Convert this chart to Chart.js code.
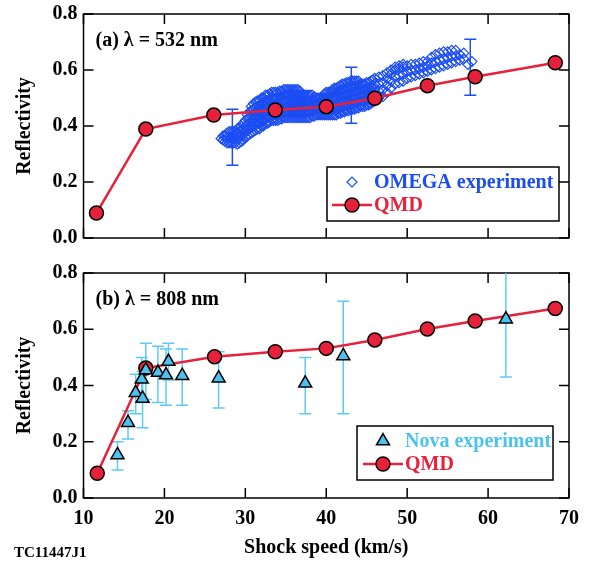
<!DOCTYPE html>
<html>
<head>
<meta charset="utf-8">
<script src="https://cdn.jsdelivr.net/npm/chart.js@4.4.1/dist/chart.umd.min.js"></script>
<style>
  body { margin: 0; background: #fff; }
  #wrap { position: relative; width: 589px; height: 567px; }
  .box { position: absolute; left: 0; width: 589px; }
</style>
</head>
<body>
<div id="wrap">
  <div class="box" style="top:0;height:250px"><canvas id="topChart"></canvas></div>
  <div class="box" style="top:250px;height:317px"><canvas id="bottomChart"></canvas></div>
</div>
<script>
const xTicks = [10, 20, 30, 40, 50, 60, 70];
const yTicks = [0.0, 0.2, 0.4, 0.6, 0.8];

// (a) 532 nm
const qmdSpeedA = [11.6, 17.7, 26.1, 33.7, 40.0, 46.0, 52.5, 58.4, 68.3];
const qmdReflA = [0.089, 0.389, 0.439, 0.457, 0.469, 0.499, 0.544, 0.576, 0.626];

// OMEGA streak data, one column of readings per speed
const omegaSpeed = [
  27.00, 27.25, 27.50, 27.75, 28.00, 28.25, 28.50, 28.75, 29.00, 29.25,
  29.50, 29.75, 30.00, 30.25, 30.50, 30.75, 31.00, 31.25, 31.50, 31.75,
  32.00, 32.25, 32.50, 32.75, 33.00, 33.25, 33.50, 33.75, 34.00, 34.25,
  34.50, 34.75, 35.00, 35.25, 35.50, 35.75, 36.00, 36.25, 36.50, 36.75,
  37.00, 37.25, 37.50, 37.75, 38.00, 38.25, 38.50, 38.75, 39.00, 39.25,
  39.50, 39.75, 40.00, 40.25, 40.50, 40.75, 41.00, 41.25, 41.50, 41.75,
  42.00, 42.25, 42.50, 42.75, 43.00, 43.25, 43.50, 43.75, 44.00, 44.25,
  44.50, 44.75, 45.00, 45.25, 45.50, 45.75, 46.00,
  46.5, 47.0, 47.5, 48.0, 48.5, 49.0, 49.5, 50.0, 50.5, 51.0,
  51.5, 52.0, 52.5, 53.0, 53.5, 54.0, 54.5, 55.0, 55.5, 56.0,
  56.5, 57.0, 57.5, 58.0
];
const omegaRefl = [
  [0.355], [0.35, 0.365], [0.345, 0.365], [0.34, 0.36, 0.375], [0.34, 0.36, 0.38],
  [0.34, 0.36, 0.38], [0.34, 0.36, 0.38], [0.34, 0.36, 0.38], [0.335, 0.355, 0.375, 0.39],
  [0.34, 0.36, 0.38, 0.395],
  [0.345, 0.365, 0.385, 0.40], [0.35, 0.37, 0.39, 0.41], [0.36, 0.38, 0.40, 0.42],
  [0.365, 0.385, 0.405, 0.425, 0.44], [0.37, 0.39, 0.41, 0.43, 0.45],
  [0.375, 0.395, 0.415, 0.435, 0.455, 0.47], [0.38, 0.40, 0.42, 0.44, 0.46, 0.48],
  [0.385, 0.405, 0.425, 0.445, 0.465, 0.485], [0.39, 0.41, 0.43, 0.45, 0.47, 0.49],
  [0.39, 0.41, 0.43, 0.45, 0.47, 0.49],
  [0.40, 0.42, 0.44, 0.46, 0.48, 0.50], [0.40, 0.42, 0.44, 0.46, 0.48, 0.50],
  [0.41, 0.43, 0.45, 0.47, 0.49, 0.51], [0.41, 0.43, 0.45, 0.47, 0.49, 0.51],
  [0.415, 0.435, 0.455, 0.475, 0.495, 0.515], [0.42, 0.44, 0.46, 0.48, 0.50, 0.52],
  [0.42, 0.44, 0.46, 0.48, 0.50, 0.52], [0.42, 0.44, 0.46, 0.48, 0.50, 0.52],
  [0.42, 0.44, 0.46, 0.48, 0.50, 0.52], [0.425, 0.445, 0.465, 0.485, 0.505, 0.525],
  [0.425, 0.445, 0.465, 0.485, 0.505, 0.525], [0.43, 0.45, 0.47, 0.49, 0.51, 0.53],
  [0.43, 0.45, 0.47, 0.49, 0.51, 0.53], [0.43, 0.45, 0.47, 0.49, 0.51, 0.53],
  [0.43, 0.45, 0.47, 0.49, 0.51, 0.53], [0.43, 0.45, 0.47, 0.49, 0.51, 0.53],
  [0.43, 0.45, 0.47, 0.49, 0.51, 0.53], [0.43, 0.45, 0.47, 0.49, 0.51, 0.53],
  [0.43, 0.45, 0.47, 0.49, 0.51, 0.53], [0.43, 0.45, 0.47, 0.49, 0.51, 0.525],
  [0.43, 0.45, 0.47, 0.49, 0.51], [0.43, 0.45, 0.47, 0.49, 0.51],
  [0.43, 0.45, 0.47, 0.49, 0.51], [0.43, 0.45, 0.47, 0.49, 0.51],
  [0.43, 0.45, 0.47, 0.49, 0.51], [0.435, 0.455, 0.475, 0.495, 0.51],
  [0.435, 0.455, 0.475, 0.495, 0.505], [0.44, 0.46, 0.48, 0.50],
  [0.44, 0.46, 0.48, 0.50], [0.44, 0.46, 0.48, 0.50],
  [0.44, 0.46, 0.48, 0.50], [0.44, 0.46, 0.48, 0.50, 0.515],
  [0.44, 0.46, 0.48, 0.50, 0.52], [0.44, 0.46, 0.48, 0.50, 0.52],
  [0.44, 0.46, 0.48, 0.50, 0.52], [0.44, 0.46, 0.48, 0.50, 0.52, 0.53],
  [0.44, 0.46, 0.48, 0.50, 0.52, 0.535], [0.44, 0.46, 0.48, 0.50, 0.52, 0.535],
  [0.445, 0.465, 0.485, 0.505, 0.525, 0.54], [0.445, 0.465, 0.485, 0.505, 0.525, 0.545],
  [0.45, 0.47, 0.49, 0.51, 0.53, 0.55], [0.45, 0.47, 0.49, 0.51, 0.53, 0.55],
  [0.455, 0.475, 0.495, 0.515, 0.535, 0.555], [0.455, 0.475, 0.495, 0.515, 0.535, 0.555],
  [0.46, 0.48, 0.50, 0.52, 0.54, 0.56], [0.46, 0.48, 0.50, 0.52, 0.54, 0.56],
  [0.46, 0.48, 0.50, 0.52, 0.54, 0.56], [0.465, 0.485, 0.505, 0.525, 0.545, 0.56],
  [0.465, 0.485, 0.505, 0.525, 0.545, 0.56], [0.47, 0.49, 0.51, 0.53, 0.55],
  [0.47, 0.49, 0.51, 0.53, 0.55], [0.47, 0.49, 0.51, 0.53, 0.55],
  [0.475, 0.495, 0.515, 0.535, 0.555], [0.475, 0.495, 0.515, 0.535, 0.555],
  [0.48, 0.50, 0.52, 0.54, 0.56], [0.485, 0.505, 0.525, 0.545, 0.565],
  [0.49, 0.51, 0.53, 0.55, 0.57],
  [0.50, 0.525, 0.55, 0.575], [0.505, 0.53, 0.555, 0.58], [0.52, 0.545, 0.57, 0.59],
  [0.535, 0.56, 0.585, 0.60], [0.55, 0.575, 0.60, 0.61], [0.555, 0.58, 0.605, 0.615],
  [0.56, 0.585, 0.61, 0.62], [0.57, 0.595, 0.615], [0.575, 0.60, 0.62],
  [0.58, 0.60, 0.62], [0.585, 0.605, 0.625], [0.59, 0.61, 0.63], [0.595, 0.615, 0.63],
  [0.60, 0.625, 0.645], [0.605, 0.63, 0.655], [0.61, 0.635, 0.66], [0.615, 0.64, 0.665],
  [0.62, 0.645, 0.665], [0.625, 0.65, 0.67], [0.63, 0.65, 0.67],
  [0.635, 0.655], [0.64, 0.66], [0.62], [0.63]
];
const omegaBarSpeed = [28.4, 43.1, 57.8];
const omegaBarLow = [0.26, 0.41, 0.51];
const omegaBarHigh = [0.46, 0.61, 0.71];

// (b) 808 nm
const qmdSpeedB = [11.7, 17.7, 26.2, 33.7, 40.0, 46.0, 52.5, 58.4, 68.3];
const qmdReflB = [0.088, 0.462, 0.502, 0.520, 0.532, 0.562, 0.601, 0.629, 0.674];

const novaSpeed = [14.2, 15.5, 16.45, 17.3, 17.2, 17.7, 19.2, 20.2, 20.5, 22.2, 26.7, 37.4, 42.1, 62.2];
const novaRefl = [0.153, 0.268, 0.374, 0.354, 0.422, 0.455, 0.446, 0.437, 0.485, 0.435, 0.426, 0.408, 0.505, 0.636];
const novaLow = [0.10, 0.21, 0.30, 0.25, 0.34, 0.35, 0.34, 0.33, 0.42, 0.33, 0.32, 0.30, 0.30, 0.43];
const novaHigh = [0.20, 0.31, 0.44, 0.45, 0.50, 0.55, 0.54, 0.53, 0.55, 0.53, 0.52, 0.50, 0.70, 0.84];

const FONT = "'Liberation Serif', 'Times New Roman', serif";
const BLUE = '#1b4df2';
const RED = '#e8213b';
const SKY = '#4cc2f0';

Chart.defaults.font.family = FONT;
Chart.defaults.font.size = 20;
Chart.defaults.font.weight = 'bold';
Chart.defaults.color = '#000';

function pts(xs, ys) {
  return xs.map((x, i) => ({ x: x, y: ys[i] }));
}

const omegaPoints = [];
omegaSpeed.forEach((x, i) => omegaRefl[i].forEach(y => omegaPoints.push({ x: x, y: y })));

// frame with inward ticks on all four sides
const framePlugin = {
  id: 'frame',
  beforeDatasetsDraw(chart) {
    const { ctx, chartArea: a, scales } = chart;
    ctx.save();
    ctx.strokeStyle = '#000';
    ctx.lineWidth = 1.5;
    ctx.strokeRect(a.left, a.top, a.right - a.left, a.bottom - a.top);
    ctx.beginPath();
    xTicks.forEach(v => {
      const px = scales.x.getPixelForValue(v);
      ctx.moveTo(px, a.bottom); ctx.lineTo(px, a.bottom - 10);
      ctx.moveTo(px, a.top); ctx.lineTo(px, a.top + 10);
    });
    yTicks.forEach(v => {
      const py = scales.y.getPixelForValue(v);
      ctx.moveTo(a.left, py); ctx.lineTo(a.left + 10, py);
      ctx.moveTo(a.right, py); ctx.lineTo(a.right - 10, py);
    });
    ctx.stroke();
    ctx.restore();
  }
};

// vertical error bars, drawn just before the QMD dataset
const errorBarPlugin = {
  id: 'errorBars',
  beforeDatasetDraw(chart, args, opts) {
    if (chart.data.datasets[args.index].label !== 'QMD') return;
    const { ctx, chartArea: a, scales } = chart;
    ctx.save();
    ctx.beginPath();
    ctx.rect(a.left, a.top, a.right - a.left, a.bottom - a.top);
    ctx.clip();
    ctx.strokeStyle = opts.color;
    ctx.lineWidth = 1.5;
    ctx.beginPath();
    opts.speed.forEach((x, i) => {
      const px = scales.x.getPixelForValue(x);
      const lo = scales.y.getPixelForValue(opts.low[i]);
      const hi = scales.y.getPixelForValue(opts.high[i]);
      ctx.moveTo(px, lo); ctx.lineTo(px, hi);
      ctx.moveTo(px - 6, lo); ctx.lineTo(px + 6, lo);
      ctx.moveTo(px - 6, hi); ctx.lineTo(px + 6, hi);
    });
    ctx.stroke();
    ctx.restore();
  }
};

// panel label and boxed legend inside the plot
const panelPlugin = {
  id: 'panel',
  afterDatasetsDraw(chart, args, opts) {
    const { ctx, chartArea: a } = chart;
    ctx.save();
    ctx.font = 'bold 20px ' + FONT;
    ctx.fillStyle = '#000';
    ctx.textBaseline = 'middle';
    ctx.textAlign = 'left';
    ctx.fillText(opts.label, a.left + 12, a.top + 27);

    const bx = a.right - opts.boxRight - opts.boxWidth;
    const by = a.bottom - opts.boxBottom - 54;
    ctx.fillStyle = '#fff';
    ctx.fillRect(bx, by, opts.boxWidth, 54);
    ctx.strokeStyle = '#000';
    ctx.lineWidth = 1.5;
    ctx.strokeRect(bx, by, opts.boxWidth, 54);

    const mx = bx + opts.markerOffset;
    const y1 = by + 15, y2 = by + 38;
    const ds = chart.data.datasets;
    const exp = ds[opts.expIndex];
    const qmd = ds[opts.qmdIndex];

    ctx.lineWidth = exp.pointBorderWidth;
    ctx.strokeStyle = exp.pointBorderColor;
    ctx.fillStyle = exp.pointBackgroundColor;
    Chart.helpers.drawPoint(ctx, { pointStyle: exp.pointStyle, radius: exp.pointRadius, borderWidth: exp.pointBorderWidth }, mx, y1);

    ctx.strokeStyle = qmd.borderColor;
    ctx.lineWidth = qmd.borderWidth;
    ctx.beginPath();
    ctx.moveTo(mx - 20, y2); ctx.lineTo(mx + 20, y2);
    ctx.stroke();
    ctx.lineWidth = qmd.pointBorderWidth;
    ctx.strokeStyle = qmd.pointBorderColor;
    ctx.fillStyle = qmd.pointBackgroundColor;
    Chart.helpers.drawPoint(ctx, { pointStyle: 'circle', radius: qmd.pointRadius, borderWidth: qmd.pointBorderWidth }, mx, y2);

    ctx.fillStyle = opts.expColor;
    ctx.fillText(exp.label, mx + 22, y1 + 1);
    ctx.fillStyle = RED;
    ctx.fillText('QMD', mx + 22, y2 + 1);

    if (opts.footer) {
      ctx.font = 'bold 15px ' + FONT;
      ctx.fillStyle = '#000';
      ctx.fillText(opts.footer, 14, chart.height - 14);
    }
    ctx.restore();
  }
};

function yScale() {
  return {
    min: 0, max: 0.8,
    afterBuildTicks: s => { s.ticks = yTicks.map(v => ({ value: v })); },
    afterFit: s => { s.width = 83.5; s.paddingTop = 0; s.paddingBottom = 0; },
    grid: { display: false, drawTicks: false },
    border: { display: false },
    ticks: { padding: 6, callback: v => v.toFixed(1) },
    title: { display: true, text: 'Reflectivity', padding: { top: 13 } }
  };
}

function qmdDataset(xs, ys) {
  return {
    label: 'QMD',
    data: pts(xs, ys),
    showLine: true,
    borderColor: RED,
    borderWidth: 2.5,
    pointRadius: 7,
    pointStyle: 'circle',
    pointBackgroundColor: RED,
    pointBorderColor: '#000',
    pointBorderWidth: 1.5
  };
}

const common = {
  responsive: true,
  maintainAspectRatio: false,
  animation: false,
  events: [],
  plugins: { legend: { display: false }, tooltip: { enabled: false } }
};

new Chart(document.getElementById('topChart'), {
  type: 'scatter',
  data: {
    datasets: [
      qmdDataset(qmdSpeedA, qmdReflA),
      {
        label: 'OMEGA experiment',
        data: omegaPoints,
        pointStyle: 'rectRot',
        pointRadius: 5,
        pointBorderWidth: 1.2,
        pointBorderColor: BLUE,
        pointBackgroundColor: 'rgba(0,0,0,0)'
      }
    ]
  },
  options: Object.assign({}, common, {
    layout: { padding: { left: 0, right: 20, top: 14, bottom: 0 } },
    scales: {
      x: {
        min: 10, max: 70,
        afterFit: s => { s.height = 12; },
        grid: { display: false, drawTicks: false },
        border: { display: false },
        ticks: { display: false }
      },
      y: yScale()
    },
    plugins: Object.assign({}, common.plugins, {
      errorBars: { speed: omegaBarSpeed, low: omegaBarLow, high: omegaBarHigh, color: BLUE },
      panel: { label: '(a) \u03bb = 532 nm', boxRight: 10, boxBottom: 17, boxWidth: 232,
               markerOffset: 25, expIndex: 1, qmdIndex: 0, expColor: BLUE }
    })
  }),
  plugins: [framePlugin, errorBarPlugin, panelPlugin]
});

new Chart(document.getElementById('bottomChart'), {
  type: 'scatter',
  data: {
    datasets: [
      {
        label: 'Nova experiment',
        data: pts(novaSpeed, novaRefl),
        pointStyle: 'triangle',
        pointRadius: 7.5,
        pointBorderWidth: 1.5,
        pointBorderColor: '#000',
        pointBackgroundColor: SKY
      },
      qmdDataset(qmdSpeedB, qmdReflB)
    ]
  },
  options: Object.assign({}, common, {
    layout: { padding: { left: 0, right: 20, top: 23, bottom: 0 } },
    scales: {
      x: {
        min: 10, max: 70,
        afterBuildTicks: s => { s.ticks = xTicks.map(v => ({ value: v })); },
        afterFit: s => { s.height = 69; },
        grid: { display: false, drawTicks: false },
        border: { display: false },
        ticks: { padding: 9 },
        title: { display: true, text: 'Shock speed (km/s)', padding: { bottom: 7 } }
      },
      y: yScale()
    },
    plugins: Object.assign({}, common.plugins, {
      errorBars: { speed: novaSpeed, low: novaLow, high: novaHigh, color: '#5ccaf6' },
      panel: { label: '(b) \u03bb = 808 nm', boxRight: 16, boxBottom: 18, boxWidth: 196,
               markerOffset: 26, expIndex: 0, qmdIndex: 1, expColor: SKY, footer: 'TC11447J1' }
    })
  }),
  plugins: [framePlugin, errorBarPlugin, panelPlugin]
});
</script>
</body>
</html>
